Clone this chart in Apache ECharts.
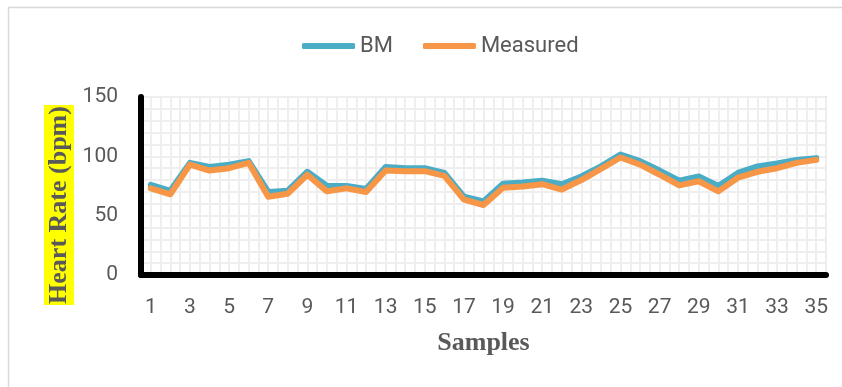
<!DOCTYPE html>
<html>
<head>
<meta charset="utf-8">
<script src="https://cdn.jsdelivr.net/npm/echarts@6/dist/echarts.min.js"></script>
<style>
  html, body { margin: 0; padding: 0; background: #ffffff; }
  #chart { width: 842px; height: 387px; }
</style>
</head>
<body>
<div id="chart"></div>
<script>
// Sample numbers shown on the category axis
const samples = ['1','2','3','4','5','6','7','8','9','10','11','12','13','14','15','16','17','18',
  '19','20','21','22','23','24','25','26','27','28','29','30','31','32','33','34','35'];

// Heart rate (bpm) per sample
const bmValues = [76, 71, 94.5, 91, 93, 96, 70, 71, 87, 75, 75, 72.5, 91, 90, 90, 86, 66, 62,
  77, 78, 79.5, 76.5, 83, 91.5, 101.5, 96, 88, 79.5, 83, 75, 86, 91.5, 94, 97, 98.5];
const measuredValues = [73, 68, 93, 88, 90, 94.5, 66, 68.5, 84.5, 70.5, 73, 70, 88, 87.5, 87.5, 83.5, 63.5, 59,
  73.5, 74.5, 76.5, 72, 80, 89.5, 99, 93, 84.5, 75.5, 79, 70.5, 82, 87, 90, 94.5, 97];

// Y axis range and labelled step
const yMin = 0, yMax = 150, yStep = 50;

const tickFont = 'Roboto, "Liberation Sans", sans-serif';
const titleFont = '"Liberation Serif", "DejaVu Serif", serif';
const textGray = '#595959';

const chart = echarts.init(document.getElementById('chart'), null, { renderer: 'canvas' });

chart.setOption({
  animation: false,
  backgroundColor: '#ffffff',
  graphic: [
    {
      type: 'rect',
      silent: true,
      shape: { x: 8.5, y: 7.5, width: 900, height: 450 },
      style: { fill: 'none', stroke: '#d9d9d9', lineWidth: 1.5 }
    },
    {
      type: 'text',
      silent: true,
      x: 59,
      y: 205,
      rotation: Math.PI / 2,
      style: {
        text: 'Heart Rate (bpm)',
        font: 'bold 26px ' + titleFont,
        fill: textGray,
        align: 'center',
        verticalAlign: 'middle',
        backgroundColor: '#ffff00',
        padding: [2, 1, 2, 1]
      }
    }
  ],
  legend: {
    data: ['BM', 'Measured'],
    left: 297,
    top: 30,
    icon: 'roundRect',
    itemWidth: 53,
    itemHeight: 6,
    itemGap: 30,
    textStyle: { fontFamily: tickFont, fontSize: 22, color: textGray }
  },
  grid: {
    left: 141,
    right: 16,
    top: 97,
    bottom: 112,
    show: true,
    borderColor: '#c6d9f1',
    borderWidth: 2,
    backgroundColor: '#ffffff'
  },
  xAxis: [
    {
      type: 'category',
      data: samples,
      boundaryGap: true,
      axisLine: { show: true, lineStyle: { color: '#000000', width: 6 } },
      axisTick: { show: false },
      axisLabel: {
        interval: 1,
        margin: 22,
        fontFamily: tickFont,
        fontSize: 21,
        color: textGray
      },
      splitLine: { show: false },
      name: 'Samples',
      nameLocation: 'middle',
      nameGap: 55,
      nameTextStyle: {
        fontFamily: titleFont,
        fontWeight: 'bold',
        fontSize: 26,
        color: textGray
      },
      z: 5
    },
    {
      // fine vertical grid: one line per half sample
      type: 'value',
      min: 0,
      max: 70,
      interval: 1,
      show: true,
      axisLine: { show: false },
      axisTick: { show: false },
      axisLabel: { show: false },
      splitLine: { show: true, lineStyle: { color: '#eeeeee', width: 2 } }
    }
  ],
  yAxis: [
    {
      type: 'value',
      min: yMin,
      max: yMax,
      interval: yStep,
      axisLine: { show: true, lineStyle: { color: '#000000', width: 6 } },
      axisTick: { show: false },
      axisLabel: {
        margin: 23,
        fontFamily: tickFont,
        fontSize: 21,
        color: textGray
      },
      splitLine: { show: false },
      z: 5
    },
    {
      // fine horizontal grid every 10 bpm
      type: 'value',
      min: yMin,
      max: yMax,
      interval: 10,
      axisLine: { show: false },
      axisTick: { show: false },
      axisLabel: { show: false },
      splitLine: { show: true, lineStyle: { color: '#eeeeee', width: 2 } }
    }
  ],
  series: [
    {
      name: 'BM',
      type: 'line',
      data: bmValues,
      xAxisIndex: 0,
      yAxisIndex: 0,
      symbol: 'none',
      color: '#4bacc6',
      lineStyle: { width: 6, color: '#4bacc6', cap: 'round', join: 'round' },
      z: 3
    },
    {
      name: 'Measured',
      type: 'line',
      data: measuredValues,
      xAxisIndex: 0,
      yAxisIndex: 0,
      symbol: 'none',
      color: '#f79646',
      lineStyle: { width: 6, color: '#f79646', cap: 'round', join: 'round' },
      z: 4
    }
  ]
});
</script>
</body>
</html>
